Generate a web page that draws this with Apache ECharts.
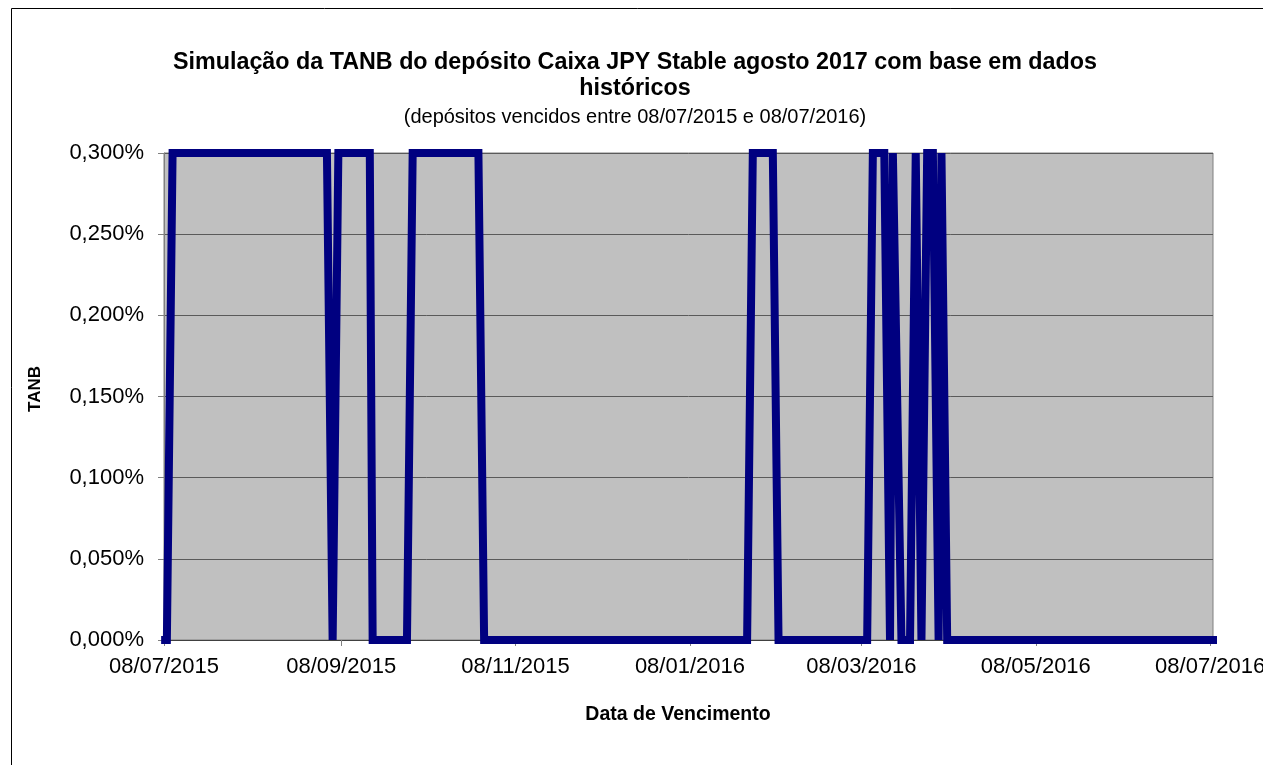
<!DOCTYPE html>
<html>
<head>
<meta charset="utf-8">
<script src="https://cdn.jsdelivr.net/npm/echarts@6/dist/echarts.min.js"></script>
<style>
  html, body { margin: 0; padding: 0; background: #fff; }
  #chart { width: 1263px; height: 765px; }
</style>
</head>
<body>
<div id="chart"></div>
<script>
// vertices of the TANB line (date of maturity, rate)
const dates = [
  '2015-07-07', '2015-07-09', '2015-07-11',
  '2015-09-03', '2015-09-05', '2015-09-07',
  '2015-09-18', '2015-09-19',
  '2015-10-01', '2015-10-03',
  '2015-10-26', '2015-10-28',
  '2016-01-28', '2016-01-30',
  '2016-02-06', '2016-02-08',
  '2016-03-10', '2016-03-12',
  '2016-03-16', '2016-03-18', '2016-03-19', '2016-03-22',
  '2016-03-25', '2016-03-27', '2016-03-29', '2016-03-31',
  '2016-04-02', '2016-04-04', '2016-04-05', '2016-04-07',
  '2016-07-11'
];
const tanb = [
  0, 0, 0.003,
  0.003, 0, 0.003,
  0.003, 0,
  0, 0.003,
  0.003, 0,
  0, 0.003,
  0.003, 0,
  0, 0.003,
  0.003, 0, 0.003, 0,
  0, 0.003, 0, 0.003,
  0.003, 0, 0.003, 0,
  0
];
const tickDates = ['2015-07-08', '2015-09-08', '2015-11-08', '2016-01-08', '2016-03-08', '2016-05-08', '2016-07-08'];
const axisMin = '2015-07-08';
const axisMax = '2016-07-09';

const toTime = (s) => echarts.number.parseDate(s).getTime();
const pad = (n) => (n < 10 ? '0' + n : '' + n);
const FONT = 'Liberation Sans, Arial';

const chart = echarts.init(document.getElementById('chart'));

const option = {
  backgroundColor: '#fff',
  animation: false,
  title: [
    {
      text: 'Simulação da TANB do depósito Caixa JPY Stable agosto 2017 com base em dados\nhistóricos',
      left: 630,
      top: 45,
      textAlign: 'center',
      textStyle: { fontFamily: FONT, fontSize: 23.3, fontWeight: 'bold', color: '#000', lineHeight: 26 }
    },
    {
      text: '(depósitos vencidos entre 08/07/2015 e 08/07/2016)',
      left: 630,
      top: 102,
      textAlign: 'center',
      textStyle: { fontFamily: FONT, fontSize: 20, fontWeight: 'normal', color: '#000' }
    }
  ],
  graphic: [
    {
      type: 'rect',
      shape: { x: 11.5, y: 8.5, width: 1400, height: 900 },
      style: { fill: 'none', stroke: '#000', lineWidth: 1 },
      silent: true,
      z: -10
    },
    {
      type: 'text',
      x: 35,
      y: 389,
      rotation: Math.PI / 2,
      style: { text: 'TANB', font: 'bold 17px ' + FONT, fill: '#000', align: 'center', verticalAlign: 'middle' }
    },
    {
      type: 'text',
      x: 678,
      y: 715,
      style: { text: 'Data de Vencimento', font: 'bold 19.5px ' + FONT, fill: '#000', align: 'center', verticalAlign: 'middle' }
    }
  ],
  grid: {
    left: 164,
    right: 50,
    top: 153,
    bottom: 125,
    outerBoundsMode: 'none',
    containLabel: false,
    show: true,
    backgroundColor: '#C0C0C0',
    borderColor: '#808080',
    borderWidth: 1
  },
  xAxis: {
    type: 'value',
    min: toTime(axisMin),
    max: toTime(axisMax),
    axisLine: { show: true, lineStyle: { color: '#404040', width: 1 } },
    axisTick: { show: true, length: 6, customValues: tickDates.map(toTime), lineStyle: { color: '#808080' } },
    axisLabel: {
      customValues: tickDates.map(toTime),
      margin: 16,
      fontFamily: FONT,
      fontSize: 22,
      color: '#000',
      formatter: (v) => {
        const d = new Date(v);
        return pad(d.getDate()) + '/' + pad(d.getMonth() + 1) + '/' + d.getFullYear();
      }
    },
    splitLine: { show: false }
  },
  yAxis: {
    type: 'value',
    min: 0,
    max: 0.003,
    interval: 0.0005,
    axisLine: { show: true, lineStyle: { color: '#808080', width: 1 } },
    axisTick: { show: true, length: 6, lineStyle: { color: '#808080' } },
    axisLabel: {
      margin: 20,
      fontFamily: FONT,
      fontSize: 22,
      color: '#000',
      formatter: (v) => (v * 100).toFixed(3).replace('.', ',') + '%'
    },
    splitLine: { show: true, lineStyle: { color: '#5a5a5a', width: 1 } }
  },
  series: [
    {
      type: 'line',
      data: dates.map((d, i) => [toTime(d), tanb[i]]),
      showSymbol: false,
      symbol: 'none',
      clip: false,
      lineStyle: { color: '#000080', width: 8, join: 'miter', miterLimit: 2, cap: 'butt' }
    }
  ]
};

chart.setOption(option);
</script>
</body>
</html>
